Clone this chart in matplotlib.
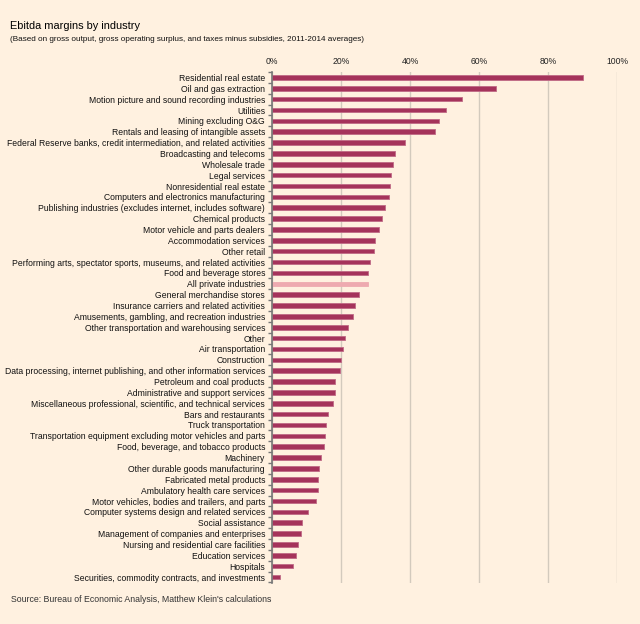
import matplotlib
matplotlib.use("Agg")
import matplotlib.pyplot as plt
from matplotlib.ticker import FixedLocator, FuncFormatter

categories = [
    "Residential real estate",
    "Oil and gas extraction",
    "Motion picture and sound recording industries",
    "Utilities",
    "Mining excluding O&G",
    "Rentals and leasing of intangible assets",
    "Federal Reserve banks, credit intermediation, and related activities",
    "Broadcasting and telecoms",
    "Wholesale trade",
    "Legal services",
    "Nonresidential real estate",
    "Computers and electronics manufacturing",
    "Publishing industries (excludes internet, includes software)",
    "Chemical products",
    "Motor vehicle and parts dealers",
    "Accommodation services",
    "Other retail",
    "Performing arts, spectator sports, museums, and related activities",
    "Food and beverage stores",
    "All private industries",
    "General merchandise stores",
    "Insurance carriers and related activities",
    "Amusements, gambling, and recreation industries",
    "Other transportation and warehousing services",
    "Other",
    "Air transportation",
    "Construction",
    "Data processing, internet publishing, and other information services",
    "Petroleum and coal products",
    "Administrative and support services",
    "Miscellaneous professional, scientific, and technical services",
    "Bars and restaurants",
    "Truck transportation",
    "Transportation equipment excluding motor vehicles and parts",
    "Food, beverage, and tobacco products",
    "Machinery",
    "Other durable goods manufacturing",
    "Fabricated metal products",
    "Ambulatory health care services",
    "Motor vehicles, bodies and trailers, and parts",
    "Computer systems design and related services",
    "Social assistance",
    "Management of companies and enterprises",
    "Nursing and residential care facilities",
    "Education services",
    "Hospitals",
    "Securities, commodity contracts, and investments",
]

margins = [
    90.3, 64.9, 55.1, 50.5, 48.3, 47.2, 38.7, 35.7, 35.1, 34.4,
    34.2, 33.9, 32.8, 31.9, 31.0, 29.9, 29.6, 28.4, 27.9, 27.9,
    25.2, 24.1, 23.6, 22.1, 21.3, 20.7, 20.0, 19.6, 18.4, 18.2,
    17.7, 16.2, 15.7, 15.3, 15.0, 14.2, 13.6, 13.3, 13.3, 12.8,
    10.4, 8.8, 8.4, 7.4, 7.0, 6.0, 2.2,
]

x_ticks = [0, 20, 40, 60, 80, 100]
highlight = "All private industries"

BG = "#fff1e0"
BAR = "#a5335b"
BAR_EDGE = "#c06a86"
HI = "#eeaab0"

plt.rcParams["font.family"] = ["Liberation Sans", "DejaVu Sans"]

fig = plt.figure(figsize=(6.4, 6.24), dpi=100, facecolor=BG)
ax = fig.add_axes([0.425, 0.0657, 0.539, 0.8189], facecolor=BG)

ypos = list(range(len(categories)))
colors = [HI if c == highlight else BAR for c in categories]
edges = [HI if c == highlight else BAR_EDGE for c in categories]
ax.barh(ypos, margins, height=0.42, color=colors, edgecolor=edges,
        linewidth=0.6, zorder=3)

ax.set_ylim(len(categories) - 0.45, -0.5)
ax.set_xlim(0, 100)

ax.xaxis.tick_top()
ax.xaxis.set_major_locator(FixedLocator(x_ticks))
ax.xaxis.set_major_formatter(FuncFormatter(lambda v, p: f"{int(v)}%"))
ax.tick_params(axis="x", length=0, pad=4, labelsize=6.2, labelcolor="#222222")
ax.grid(axis="x", color="#d3cabd", linewidth=1.0, zorder=0)

ax.set_yticks(ypos)
ax.set_yticklabels(categories)
ax.tick_params(axis="y", which="major", length=0, pad=5, labelsize=6.25,
               labelcolor="#111111")
ax.set_yticks([i + 0.5 for i in range(-1, len(categories))], minor=True)
ax.tick_params(axis="y", which="minor", length=3, width=1,
               color="#777777", direction="out")

for s in ["top", "right", "bottom"]:
    ax.spines[s].set_visible(False)
ax.spines["left"].set_color("#777777")
ax.spines["left"].set_linewidth(1.2)
ax.spines["left"].set_zorder(4)

fig.text(0.016, 0.959, "Ebitda margins by industry", fontsize=7.9,
         color="#000000", va="center", ha="left")
fig.text(0.016, 0.937,
         "(Based on gross output, gross operating surplus, and taxes minus subsidies, 2011-2014 averages)",
         fontsize=5.85, color="#111111", va="center", ha="left")
fig.text(0.017, 0.039, "Source: Bureau of Economic Analysis, Matthew Klein's calculations",
         fontsize=6.3, color="#333333", va="center", ha="left")

fig.savefig("out.png", dpi=100, facecolor=BG)
